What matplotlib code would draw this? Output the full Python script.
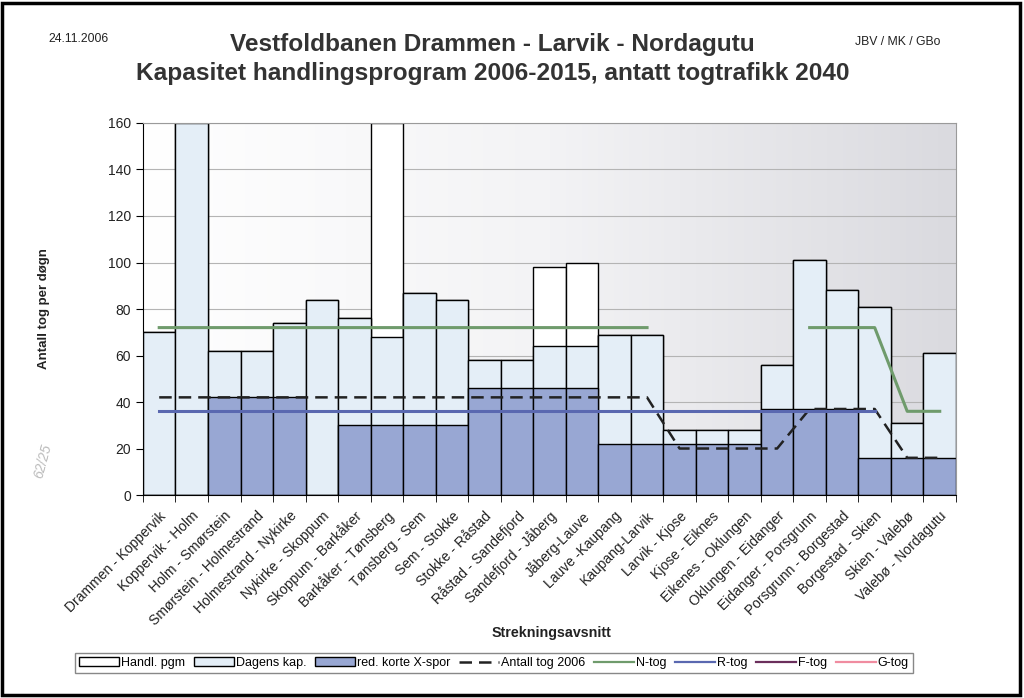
import numpy as np
import matplotlib
matplotlib.use("Agg")
import matplotlib.pyplot as plt
from matplotlib.colors import LinearSegmentedColormap
from matplotlib.patches import Patch, Rectangle
from matplotlib.lines import Line2D

plt.rcParams['font.family'] = ['Liberation Sans', 'DejaVu Sans']

strekninger = ["Drammen - Koppervik", "Koppervik - Holm", "Holm - Smørstein",
               "Smørstein - Holmestrand", "Holmestrand - Nykirke", "Nykirke - Skoppum",
               "Skoppum - Barkåker", "Barkåker - Tønsberg", "Tønsberg - Sem",
               "Sem - Stokke", "Stokke - Råstad", "Råstad - Sandefjord",
               "Sandefjord - Jåberg", "Jåberg-Lauve", "Lauve -Kaupang",
               "Kaupang-Larvik", "Larvik - Kjose", "Kjose - Eiknes",
               "Eikenes - Oklungen", "Oklungen - Eidanger", "Eidanger - Porsgrunn",
               "Porsgrunn - Borgestad", "Borgestad - Skien", "Skien - Valebø",
               "Valebø - Nordagutu"]

handl_pgm = [70, 160, 62, 62, 74, 84, 76, 160, 87, 84, 58, 58, 98, 100, 69, 69,
             28, 28, 28, 56, 101, 88, 81, 31, 61]
dagens_kap = [70, 160, 62, 62, 74, 84, 76, 68, 87, 84, 58, 58, 64, 64, 69, 69,
              28, 28, 28, 56, 101, 88, 81, 31, 61]
red_korte = [0, 0, 42, 42, 42, 0, 30, 30, 30, 30, 46, 46, 46, 46, 22, 22,
             22, 22, 22, 37, 37, 37, 16, 16, 16]

nan = np.nan
antall_2006 = [42, 42, 42, 42, 42, 42, 42, 42, 42, 42, 42, 42, 42, 42, 42, 42,
               20, 20, 20, 20, 37, 37, 37, 16, 16]
n_tog = [72, 72, 72, 72, 72, 72, 72, 72, 72, 72, 72, 72, 72, 72, 72, 72,
         nan, nan, nan, nan, 72, 72, 72, 36, 36]
r_tog = [36, 36, 36, 36, 36, 36, 36, 36, 36, 36, 36, 36, 36, 36, 36, 36,
         36, 36, 36, 36, 36, 36, 36, nan, nan]

c_light = '#e4eef7'
c_dark = '#98a7d3'
c_green = '#6f9b6c'
c_blue = '#5a68b0'
c_purple = '#6b2f5c'
c_pink = '#f08ca0'
txt = '#222222'

fig = plt.figure(figsize=(10.24, 6.98), dpi=100)
ax = fig.add_axes([0.1396, 0.2908, 0.7940, 0.5330])

x = np.arange(len(strekninger))

# bakgrunn med gradient
grad = np.linspace(0, 1, 256).reshape(1, -1)
cmap = LinearSegmentedColormap.from_list('bg', ['#ffffff', '#f3f3f5', '#dadadf'])
ax.imshow(grad, cmap=cmap, extent=[-0.5, 24.5, 0, 160], aspect='auto', zorder=0)

ax.bar(x, handl_pgm, width=1.0, color='white', edgecolor='black', lw=1, zorder=2)
ax.bar(x, dagens_kap, width=1.0, color=c_light, edgecolor='black', lw=1, zorder=3)
ax.bar(x, red_korte, width=1.0, color=c_dark, edgecolor='black', lw=1, zorder=4)

ax.plot(x, antall_2006, color='#222222', lw=1.8, dashes=(5, 2.8), zorder=6)
ax.plot(x, n_tog, color=c_green, lw=2.2, zorder=6)
ax.plot(x, r_tog, color=c_blue, lw=2.2, zorder=6)

ax.set_xlim(-0.5, 24.5)
ax.set_ylim(0, 160)
ax.set_yticks(range(0, 161, 20))
ax.yaxis.grid(True, color='#b4b4b4', lw=0.8)
ax.set_axisbelow(True)
for g in ax.get_ygridlines():
    g.set_zorder(1)

ax.set_xticks(x)
ax.set_xticklabels(strekninger, rotation=45, ha='right', rotation_mode='anchor',
                   fontsize=10, color=txt)
ax.set_xticks(np.arange(-0.5, 25, 1), minor=True)
ax.tick_params(axis='x', which='major', length=0, pad=10)
ax.tick_params(axis='x', which='minor', length=5, direction='out', color='black')
ax.tick_params(axis='y', length=5, labelsize=10, labelcolor=txt)

for s in ['top', 'right']:
    ax.spines[s].set_color('#9a9a9a')
    ax.spines[s].set_zorder(7)
ax.spines['left'].set_zorder(7)
ax.spines['bottom'].set_zorder(7)

ax.set_ylabel('Antall tog per døgn', fontsize=9.5, fontweight='bold', color=txt, labelpad=42)
fig.text(0.539, 0.093, 'Strekningsavsnitt', fontsize=10.3, fontweight='bold',
         color=txt, ha='center', va='center')

fig.text(0.481, 0.936, 'Vestfoldbanen Drammen - Larvik - Nordagutu', fontsize=17.6,
         fontweight='bold', color='#333333', ha='center', va='center')
fig.text(0.481, 0.895, 'Kapasitet handlingsprogram 2006-2015, antatt togtrafikk 2040',
         fontsize=17.6, fontweight='bold', color='#333333', ha='center', va='center')
fig.text(0.047, 0.944, '24.11.2006', fontsize=8.8, color=txt, ha='left', va='center')
fig.text(0.918, 0.940, 'JBV / MK / GBo', fontsize=8.8, color=txt, ha='right', va='center')
fig.text(0.042, 0.34, '62/25', fontsize=10, color='#bcbcbc', rotation=75,
         style='italic', ha='center', va='center')

handles = [Patch(fc='white', ec='black', lw=1),
           Patch(fc=c_light, ec='black', lw=1),
           Patch(fc=c_dark, ec='black', lw=1),
           Line2D([], [], color='#222222', lw=1.8, dashes=(5, 2.8)),
           Line2D([], [], color=c_green, lw=1.6),
           Line2D([], [], color=c_blue, lw=1.6),
           Line2D([], [], color=c_purple, lw=1.6),
           Line2D([], [], color=c_pink, lw=1.6)]
labels = ['Handl. pgm', 'Dagens kap.', 'red. korte X-spor', 'Antall tog 2006',
          'N-tog', 'R-tog', 'F-tog', 'G-tog']
leg = fig.legend(handles, labels, loc='center', bbox_to_anchor=(0.4824, 0.0501),
                 ncol=8, fontsize=9, handlelength=3.2, handleheight=0.7,
                 handletextpad=0.15, columnspacing=0.7, borderpad=0.3,
                 borderaxespad=0, fancybox=False, edgecolor='#888888', framealpha=1)
leg.get_frame().set_linewidth(1.0)

fig.patches.append(Rectangle((0.002, 0.004), 0.994, 0.992, transform=fig.transFigure,
                             fill=False, lw=2.5, ec='black'))

fig.savefig('out.png', dpi=100)
